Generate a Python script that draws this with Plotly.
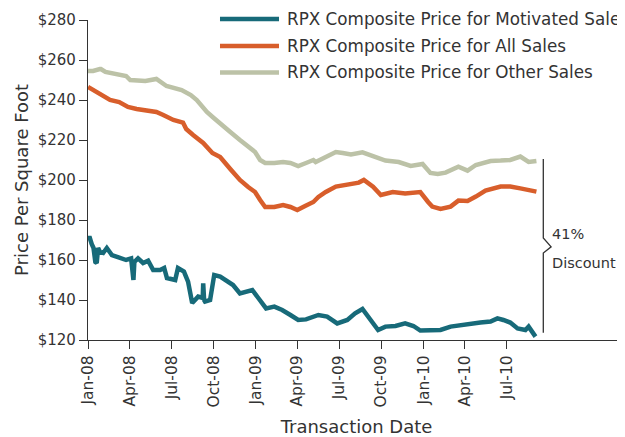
import plotly.graph_objects as go

# ---------------- data ----------------
motivated_dates = [
    "2008-01-01", "2008-01-05", "2008-01-09", "2008-01-13", "2008-01-17", "2008-01-20",
    "2008-01-23", "2008-01-27", "2008-02-03", "2008-02-11", "2008-02-22", "2008-03-04",
    "2008-03-15", "2008-03-24", "2008-04-04", "2008-04-09", "2008-04-11", "2008-04-19",
    "2008-04-30", "2008-05-11", "2008-05-22", "2008-06-06", "2008-06-15", "2008-06-21",
    "2008-07-09", "2008-07-15", "2008-07-28", "2008-08-06", "2008-08-15", "2008-08-28",
    "2008-09-07", "2008-09-08", "2008-09-10", "2008-09-12", "2008-09-23", "2008-10-02",
    "2008-10-15", "2008-10-28", "2008-11-12", "2008-11-27", "2008-12-15", "2008-12-24",
    "2009-01-06", "2009-01-23", "2009-02-10", "2009-02-27", "2009-03-17", "2009-04-03",
    "2009-04-20", "2009-05-06", "2009-05-17", "2009-06-05", "2009-06-27", "2009-07-19",
    "2009-08-05", "2009-08-21", "2009-08-31", "2009-09-11", "2009-09-24", "2009-10-10",
    "2009-11-01", "2009-11-22", "2009-12-10", "2009-12-25", "2010-01-16", "2010-02-07",
    "2010-03-01", "2010-03-22", "2010-04-13", "2010-05-05", "2010-05-27", "2010-06-11",
    "2010-06-24", "2010-07-09", "2010-07-25", "2010-08-11", "2010-08-18", "2010-08-26",
    "2010-09-02",
]
motivated_values = [
    171, 171, 168, 166, 159, 158.5,
    166, 164, 163.5, 166, 162.5, 161.7,
    160.8, 160, 160.8, 150, 159, 160.8,
    158.5, 159.7, 155, 155, 156, 151,
    150, 156, 154.2, 149.2, 138.5, 141.7,
    141, 148.3, 140, 139.2, 140, 152.5,
    151.7, 150, 147.5, 143.3, 144.2, 145,
    141, 135.8, 136.7, 135, 132.5, 130,
    130.3, 131.7, 132.5, 131.7, 128.3, 130,
    133.3, 135.5, 132.5, 128.3, 125, 126.7,
    127, 128.3, 127, 124.7, 125, 125,
    126.7, 127.5, 128, 128.7, 129.2, 130.8,
    130, 128.7, 125.8, 125, 126.7, 123.7,
    121.7,
]

all_dates = [
    "2008-01-01", "2008-01-12", "2008-01-25", "2008-02-05", "2008-02-18", "2008-03-09",
    "2008-03-28", "2008-04-16", "2008-05-05", "2008-05-29", "2008-06-13", "2008-07-05",
    "2008-07-26", "2008-08-02", "2008-08-17", "2008-09-08", "2008-09-28", "2008-10-15",
    "2008-11-06", "2008-11-27", "2008-12-15", "2008-12-30", "2009-01-10", "2009-01-21",
    "2009-02-10", "2009-03-01", "2009-03-17", "2009-04-01", "2009-04-18", "2009-05-06",
    "2009-05-17", "2009-06-02", "2009-06-24", "2009-07-27", "2009-08-13", "2009-08-24",
    "2009-09-13", "2009-09-30", "2009-10-26", "2009-11-22", "2009-12-25", "2010-01-11",
    "2010-01-20", "2010-02-07", "2010-03-01", "2010-03-18", "2010-04-07", "2010-04-25",
    "2010-05-16", "2010-06-18", "2010-07-09", "2010-07-31", "2010-08-18", "2010-09-04",
]
all_values = [
    246.5, 245, 243.7, 242, 240, 239,
    236.5, 235.5, 235, 234, 232.5, 230,
    228.7, 225.5, 222.5, 218.5, 213.5, 211.5,
    205.5, 200, 196.5, 194, 190, 186.5,
    186.5, 187.5, 186.5, 185, 187, 189,
    191.5, 194, 196.7, 197.8, 198.7, 200,
    196.7, 192.5, 194, 193.3, 194, 189,
    186.7, 185.5, 186.7, 189.7, 189.5, 191.7,
    194.7, 196.7, 196.7, 195.8, 194.7, 194.2,
]

other_dates = [
    "2008-01-01", "2008-01-12", "2008-01-27", "2008-01-29", "2008-02-08", "2008-02-19",
    "2008-03-04", "2008-03-24", "2008-04-02", "2008-04-16", "2008-05-05", "2008-05-29",
    "2008-06-09", "2008-06-20", "2008-07-23", "2008-08-12", "2008-08-25", "2008-09-16",
    "2008-10-01", "2008-10-15", "2008-11-06", "2008-11-27", "2008-12-15", "2008-12-30",
    "2009-01-10", "2009-01-21", "2009-02-10", "2009-03-01", "2009-03-17", "2009-04-03",
    "2009-04-20", "2009-05-06", "2009-05-11", "2009-06-02", "2009-06-24", "2009-07-09",
    "2009-07-27", "2009-08-21", "2009-09-19", "2009-10-10", "2009-11-08", "2009-12-04",
    "2009-12-30", "2010-01-16", "2010-02-01", "2010-02-18", "2010-03-18", "2010-04-07",
    "2010-04-25", "2010-05-27", "2010-06-18", "2010-07-09", "2010-07-31", "2010-08-18",
    "2010-09-04",
]
other_values = [
    254.5, 254.5, 255.5, 255.5, 254, 253.5,
    253, 252, 250, 250, 249.5, 250.5,
    249, 247, 245, 242.5, 240, 234,
    231, 228.5, 224, 220, 216.5, 214,
    210, 208.5, 208.5, 209, 208.5, 207,
    208.5, 210, 209, 211.7, 214, 213.5,
    212.8, 213.8, 211.7, 209.7, 209, 207,
    208, 203.5, 203, 203.7, 206.7, 204.7,
    207.5, 209.5, 209.7, 210, 211.7, 209,
    209.5,
]

series_names = [
    "RPX Composite Price for Motivated Sales",
    "RPX Composite Price for All Sales",
    "RPX Composite Price for Other Sales",
]

tick_dates = ["2008-01-01", "2008-04-01", "2008-07-01", "2008-10-01",
              "2009-01-01", "2009-04-01", "2009-07-01", "2009-10-01",
              "2010-01-01", "2010-04-01", "2010-07-01"]
tick_labels = ["Jan-08", "Apr-08", "Jul-08", "Oct-08", "Jan-09", "Apr-09",
               "Jul-09", "Oct-09", "Jan-10", "Apr-10", "Jul-10"]
y_ticks = [120, 140, 160, 180, 200, 220, 240, 260, 280]
y_tick_labels = ["$120", "$140", "$160", "$180", "$200", "$220", "$240", "$260", "$280"]

discount_pct = "41%"
discount_word = "Discount"

# ---------------- style ----------------
TEAL = "#176a79"
ORANGE = "#d85e2b"
SAGE = "#bcc2a7"
TEXT = "#333333"
FONT = "DejaVu Sans"

fig = go.Figure()
for name, xs, ys, col in [
    (series_names[2], other_dates, other_values, SAGE),
    (series_names[1], all_dates, all_values, ORANGE),
    (series_names[0], motivated_dates, motivated_values, TEAL),
]:
    fig.add_trace(go.Scatter(x=xs, y=ys, mode="lines", name=name,
                             line=dict(color=col, width=4.5),
                             showlegend=False))

# manual legend (line swatch + text)
leg_rows = [1.003, 0.919, 0.836]
for name, col, yy in zip(series_names, [TEAL, ORANGE, SAGE], leg_rows):
    fig.add_shape(type="line", xref="paper", yref="paper",
                  x0=0.2458, x1=0.3557, y0=yy, y1=yy,
                  line=dict(color=col, width=4.5))
    fig.add_annotation(xref="paper", yref="paper", x=0.3669, y=yy,
                       xanchor="left", yanchor="middle", showarrow=False,
                       text=name, font=dict(family=FONT, size=16.8, color=TEXT))

# bracket
fig.add_shape(type="path", xref="x", yref="y",
              path="M 2010-09-19,210.5 L 2010-09-19,171 L 2010-10-06,166.6 "
                   "L 2010-09-19,163.5 L 2010-09-19,123.6",
              line=dict(color=TEXT, width=1.3))
fig.add_annotation(xref="x", yref="y", x="2010-10-03", y=173,
                   xanchor="left", yanchor="middle", showarrow=False,
                   text=discount_pct, font=dict(family=FONT, size=14.5, color=TEXT))
fig.add_annotation(xref="x", yref="y", x="2010-10-03", y=158.7,
                   xanchor="left", yanchor="middle", showarrow=False,
                   text=discount_word, font=dict(family=FONT, size=14.5, color=TEXT))

fig.update_layout(
    width=617, height=429,
    margin=dict(l=80, r=0, t=12, b=97),
    paper_bgcolor="white", plot_bgcolor="white",
    font=dict(family=FONT, size=15, color=TEXT),
    showlegend=False,
)
fig.update_xaxes(
    type="date", range=["2008-01-01", "2011-03-16"],
    tickvals=tick_dates, ticktext=tick_labels, tickangle=-90,
    ticks="outside", ticklen=8, tickcolor=TEXT, tickwidth=1.3,
    showline=True, linecolor=TEXT, linewidth=1.3,
    showgrid=False, zeroline=False,
    tickfont=dict(family=FONT, size=15.5, color=TEXT),
    title=dict(text="Transaction Date", font=dict(family=FONT, size=18, color=TEXT), standoff=14),
)
fig.update_yaxes(
    range=[120, 280], tickvals=y_ticks, ticktext=y_tick_labels,
    ticks="outside", ticklen=8, tickcolor=TEXT, tickwidth=1.3,
    showline=True, linecolor=TEXT, linewidth=1.3,
    showgrid=False, zeroline=False,
    tickfont=dict(family=FONT, size=15, color=TEXT),
    title=dict(text="Price Per Square Foot", font=dict(family=FONT, size=18, color=TEXT), standoff=4),
)

fig.write_html("out.html")
